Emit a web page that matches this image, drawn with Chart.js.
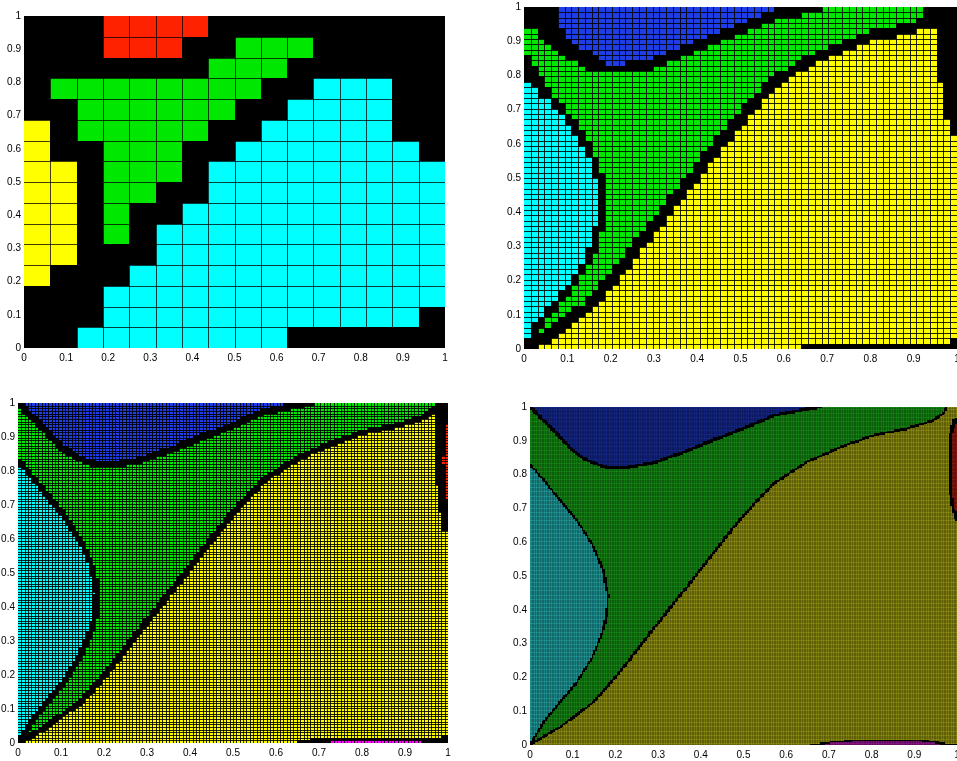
<!DOCTYPE html>
<html>
<head>
<meta charset="UTF-8">
<title>Basins of attraction at four grid sizes</title>
<script src="https://cdn.jsdelivr.net/npm/chart.js@4.4.0/dist/chart.umd.min.js"></script>
<style>
  html, body {margin:0; padding:0; background:#fff; overflow:hidden; width:957px; height:761px;}
  canvas {position:absolute;}
</style>
</head>
<body>
<canvas id="p1"></canvas>
<canvas id="p2"></canvas>
<canvas id="p3"></canvas>
<canvas id="p4"></canvas>
<script>
// tick values / labels (same on both axes of every panel)
var tickValues = [0, 0.1, 0.2, 0.3, 0.4, 0.5, 0.6, 0.7, 0.8, 0.9, 1];
var tickLabels = ['0', '0.1', '0.2', '0.3', '0.4', '0.5', '0.6', '0.7', '0.8', '0.9', '1'];

// panel 1: 16x16 grid, rows from top (y=1) to bottom (y=0)
// K black, R red, G green, C cyan, Y yellow
var coarseRows = [
  'KKKRRRRKKKKKKKKK',
  'KKKRRRKKGGGKKKKK',
  'KKKKKKKGGGKKKKKK',
  'KGGGGGGGGKKCCCKK',
  'KKGGGGGGKKCCCCKK',
  'YKGGGGGKKCCCCCKK',
  'YKKGGGKKCCCCCCCK',
  'YYKGGGKCCCCCCCCC',
  'YYKGGKKCCCCCCCCC',
  'YYKGKKCCCCCCCCCC',
  'YYKGKCCCCCCCCCCC',
  'YYKKKCCCCCCCCCCC',
  'YKKKCCCCCCCCCCCC',
  'KKKCCCCCCCCCCCCC',
  'KKKCCCCCCCCCCCCK',
  'KKCCCCCCCCKKKKKK'
];

var blueEdge = [[0, 1.0], [0.005, 0.994], [0.04, 0.95], [0.07, 0.911], [0.10, 0.871], [0.133, 0.842],
  [0.179, 0.821], [0.226, 0.821], [0.288, 0.834], [0.35, 0.862], [0.427, 0.901], [0.497, 0.935],
  [0.57, 0.975], [0.648, 0.994], [0.68, 1.0]];
var cyanEdge = [[0, 0.83], [0.005, 0.823], [0.032, 0.784], [0.07, 0.725], [0.109, 0.666], [0.148, 0.588],
  [0.171, 0.519], [0.183, 0.441], [0.179, 0.382], [0.167, 0.323], [0.144, 0.254], [0.109, 0.185],
  [0.07, 0.126], [0.032, 0.068], [0.009, 0.019], [0, 0]];
var yellowEdge = [[0, 0], [0.012, 0.009], [0.07, 0.053], [0.148, 0.126], [0.21, 0.215], [0.264, 0.303],
  [0.319, 0.391], [0.381, 0.489], [0.435, 0.577], [0.497, 0.675], [0.57, 0.774], [0.648, 0.837],
  [0.726, 0.881], [0.803, 0.916], [0.881, 0.935], [0.943, 0.96], [0.97, 0.984], [0.975, 1.0]];

// grid size per panel and half width of the black bands (blue, cyan, yellow edge)
var gridSizes = [16, 64, 128, 256];
var bandHalf2 = [0.014, 0.009, 0.015];
var bandHalf3 = [0.009, 0.007, 0.008];
var bandHalf4 = [0.0045, 0.003, 0.0035];

// extra patches per panel
var leftBand2 = [[-0.02, 1.02], [0.07, 1.02], [0.08, 0.94], [0.115, 0.895], [0.16, 0.86], [0.19, 0.835],
  [0.14, 0.83], [0.104, 0.86], [0.05, 0.895], [0.02, 0.935], [-0.02, 0.955]];
var cyanTop2 = [[-0.02, 0.865], [0.015, 0.865], [0.05, 0.73], [-0.02, 0.805]];
var rightStrip2 = [[0.923, 1.02], [1.02, 1.02], [1.02, 0.625], [0.985, 0.625], [0.985, 0.669], [0.969, 0.669],
  [0.969, 0.786], [0.954, 0.786], [0.954, 0.95], [0.923, 0.95]];
var bottomStrip2 = [[0.64, -0.02], [0.64, 0.0156], [0.984, 0.0156], [0.984, 0.032], [1.02, 0.032], [1.02, -0.02]];

var rightStrip3 = [[0.968, 1.02], [1.02, 1.02], [1.02, 0.627], [0.985, 0.627], [0.985, 0.68], [0.977, 0.68],
  [0.977, 0.754], [0.968, 0.754]];
var redStrip3 = [[0.992, 0.935], [1.02, 0.935], [1.02, 0.718], [0.992, 0.718]];
var redBump3 = [[0.984, 0.842], [0.992, 0.842], [0.992, 0.82], [0.984, 0.82]];
var bottomStrip3 = [[0.645, -0.02], [0.645, 0.0078], [0.676, 0.0078], [0.676, 0.0156], [0.985, 0.0156],
  [0.985, 0.025], [1.02, 0.025], [1.02, -0.02]];
var magenta3 = [[0.727, -0.02], [0.727, 0.0078], [0.94, 0.0078], [0.94, -0.02]];

var redRim4 = [[1.02, 0.975], [0.99, 0.965], [0.982, 0.92], [0.98, 0.82], [0.982, 0.74], [0.987, 0.70],
  [0.995, 0.665], [1.02, 0.66]];
var red4 = [[1.02, 0.955], [0.997, 0.95], [0.99, 0.92], [0.988, 0.87], [0.987, 0.82], [0.988, 0.76],
  [0.991, 0.72], [0.996, 0.69], [1.02, 0.685]];
var bottomLine4 = [[0.655, -0.02], [0.655, 0.003], [0.68, 0.006], [0.72, 0.013], [0.78, 0.016], [0.9, 0.016],
  [0.945, 0.013], [0.97, 0.006], [1.02, 0.004], [1.02, -0.02]];
var magenta4 = [[0.69, -0.02], [0.69, 0.004], [0.72, 0.008], [0.78, 0.011], [0.9, 0.011], [0.94, 0.008],
  [0.96, 0.003], [0.96, -0.02]];

var brightColors = {K: '#000000', R: '#ff2200', G: '#00e800', C: '#00ffff', Y: '#ffff00', B: '#1f3ee6', M: '#ff00ff'};
var darkColors = {K: '#000000', R: '#901810', G: '#158c15', C: '#209c9c', Y: '#909010', B: '#14288e', M: '#90168e'};

function inPoly(x, y, poly) {
  var inside = false;
  for (var i = 0, j = poly.length - 1; i < poly.length; j = i++) {
    var xi = poly[i][0], yi = poly[i][1], xj = poly[j][0], yj = poly[j][1];
    if ((yi > y) != (yj > y) && x < (xj - xi) * (y - yi) / (yj - yi) + xi) inside = !inside;
  }
  return inside;
}
function distLine(x, y, pts) {
  var best = 1e9;
  for (var k = 0; k < pts.length - 1; k++) {
    var ax = pts[k][0], ay = pts[k][1], bx = pts[k+1][0], by = pts[k+1][1];
    var dx = bx - ax, dy = by - ay;
    var t = ((x - ax) * dx + (y - ay) * dy) / (dx * dx + dy * dy);
    t = Math.max(0, Math.min(1, t));
    var px = ax + t * dx - x, py = ay + t * dy - y;
    best = Math.min(best, Math.sqrt(px * px + py * py));
  }
  return best;
}

var bluePoly = blueEdge.concat([[0.68, 1.02], [0, 1.02]]);
var cyanPoly = cyanEdge.concat([[-0.02, 0], [-0.02, 0.83]]);
var yellowPoly = yellowEdge.concat([[1.02, 1.0], [1.02, -0.02], [0, -0.02]]);

function coarseCells() {
  var n = coarseRows.length, out = [];
  coarseRows.forEach(function(row, r) {
    for (var i = 0; i < row.length; i++) {
      out.push({x: (i + 0.5) / n, y: (n - 1 - r + 0.5) / n, c: row[i]});
    }
  });
  return out;
}

function fineCells(n, half, extras) {
  var out = [];
  for (var j = 0; j < n; j++) {
    for (var i = 0; i < n; i++) {
      var x = (i + 0.5) / n, y = (j + 0.5) / n, c = 'G';
      if (inPoly(x, y, bluePoly)) c = 'B';
      else if (inPoly(x, y, cyanPoly)) c = 'C';
      else if (inPoly(x, y, yellowPoly)) c = 'Y';
      if (distLine(x, y, blueEdge) < half[0] || distLine(x, y, cyanEdge) < half[1] ||
          distLine(x, y, yellowEdge) < half[2]) c = 'K';
      extras.forEach(function(e) { if (inPoly(x, y, e[1])) c = e[0]; });
      out.push({x: x, y: y, c: c});
    }
  }
  return out;
}

// draws every cell from the dataset, through the chart's scales
var cellPlugin = {
  id: 'cells',
  beforeDatasetsDraw: function(chart) {
    var o = chart.options.plugins.cells;
    var xs = chart.scales.x, ys = chart.scales.y, ctx = chart.ctx;
    var n = o.n, h = 0.5 / n;
    ctx.save();
    chart.data.datasets[0].data.forEach(function(p) {
      var l = Math.round(xs.getPixelForValue(p.x - h)), r = Math.round(xs.getPixelForValue(p.x + h));
      var t = Math.round(ys.getPixelForValue(p.y + h)), b = Math.round(ys.getPixelForValue(p.y - h));
      ctx.fillStyle = o.palette[p.c];
      ctx.fillRect(l, t, r - l, b - t);
    });
    ctx.strokeStyle = o.line;
    ctx.lineWidth = 1;
    ctx.beginPath();
    var top = Math.round(ys.getPixelForValue(1)), bot = Math.round(ys.getPixelForValue(0));
    var lft = Math.round(xs.getPixelForValue(0)), rgt = Math.round(xs.getPixelForValue(1));
    for (var i = 1; i < n; i++) {
      var gx = Math.round(xs.getPixelForValue(i / n)) + 0.5;
      ctx.moveTo(gx, top); ctx.lineTo(gx, bot);
      var gy = Math.round(ys.getPixelForValue(i / n)) + 0.5;
      ctx.moveTo(lft, gy); ctx.lineTo(rgt, gy);
    }
    ctx.stroke();
    ctx.restore();
  }
};

function makeAxis(size, isY) {
  return {
    type: 'linear', min: 0, max: 1,
    grid: {display: false, drawTicks: false},
    border: {display: false},
    afterBuildTicks: function(s) { s.ticks = tickValues.map(function(v) { return {value: v}; }); },
    afterFit: function(s) { if (isY) s.width = size; else s.height = size; },
    ticks: {
      autoSkip: false, maxRotation: 0, padding: isY ? 3 : 4, color: '#000',
      font: {family: 'Liberation Sans', size: 10},
      callback: function(v, i) { return tickLabels[i]; }
    }
  };
}

// chart area position of each panel: left, top, width, height, y-axis width
function makePanel(id, box, cells, n, palette, line) {
  var cv = document.getElementById(id);
  var padTop = 10, padRight = 12, xh = 20;
  cv.width = box[4] + box[2] + padRight;
  cv.height = padTop + box[3] + xh;
  cv.style.left = (box[0] - box[4]) + 'px';
  cv.style.top = (box[1] - padTop) + 'px';
  cv.style.width = cv.width + 'px';
  cv.style.height = cv.height + 'px';
  return new Chart(cv, {
    type: 'scatter',
    data: {datasets: [{data: cells, pointRadius: 0, showLine: false}]},
    options: {
      responsive: false, animation: false, events: [], devicePixelRatio: 1,
      layout: {padding: {top: padTop, right: padRight, left: 0, bottom: 0}},
      plugins: {legend: {display: false}, tooltip: {enabled: false},
        cells: {n: n, palette: palette, line: line}},
      scales: {x: makeAxis(xh, false), y: makeAxis(box[4], true)}
    },
    plugins: [cellPlugin]
  });
}

makePanel('p1', [24, 16, 421, 332, 24], coarseCells(), gridSizes[0], brightColors, 'rgba(0,0,0,0.75)');
makePanel('p2', [524, 7, 433, 342, 24],
  fineCells(gridSizes[1], bandHalf2, [['K', leftBand2], ['K', cyanTop2], ['K', rightStrip2], ['K', bottomStrip2]]),
  gridSizes[1], brightColors, 'rgba(0,0,0,0.85)');
makePanel('p3', [18, 403, 430, 340, 18],
  fineCells(gridSizes[2], bandHalf3, [['K', rightStrip3], ['R', redStrip3], ['R', redBump3],
    ['K', bottomStrip3], ['M', magenta3]]),
  gridSizes[2], brightColors, 'rgba(0,0,0,0.85)');
makePanel('p4', [530, 407, 427, 338, 24],
  fineCells(gridSizes[3], bandHalf4, [['K', redRim4], ['R', red4], ['K', bottomLine4], ['M', magenta4]]),
  gridSizes[3], darkColors, 'rgba(0,0,0,0.18)');
</script>
</body>
</html>
